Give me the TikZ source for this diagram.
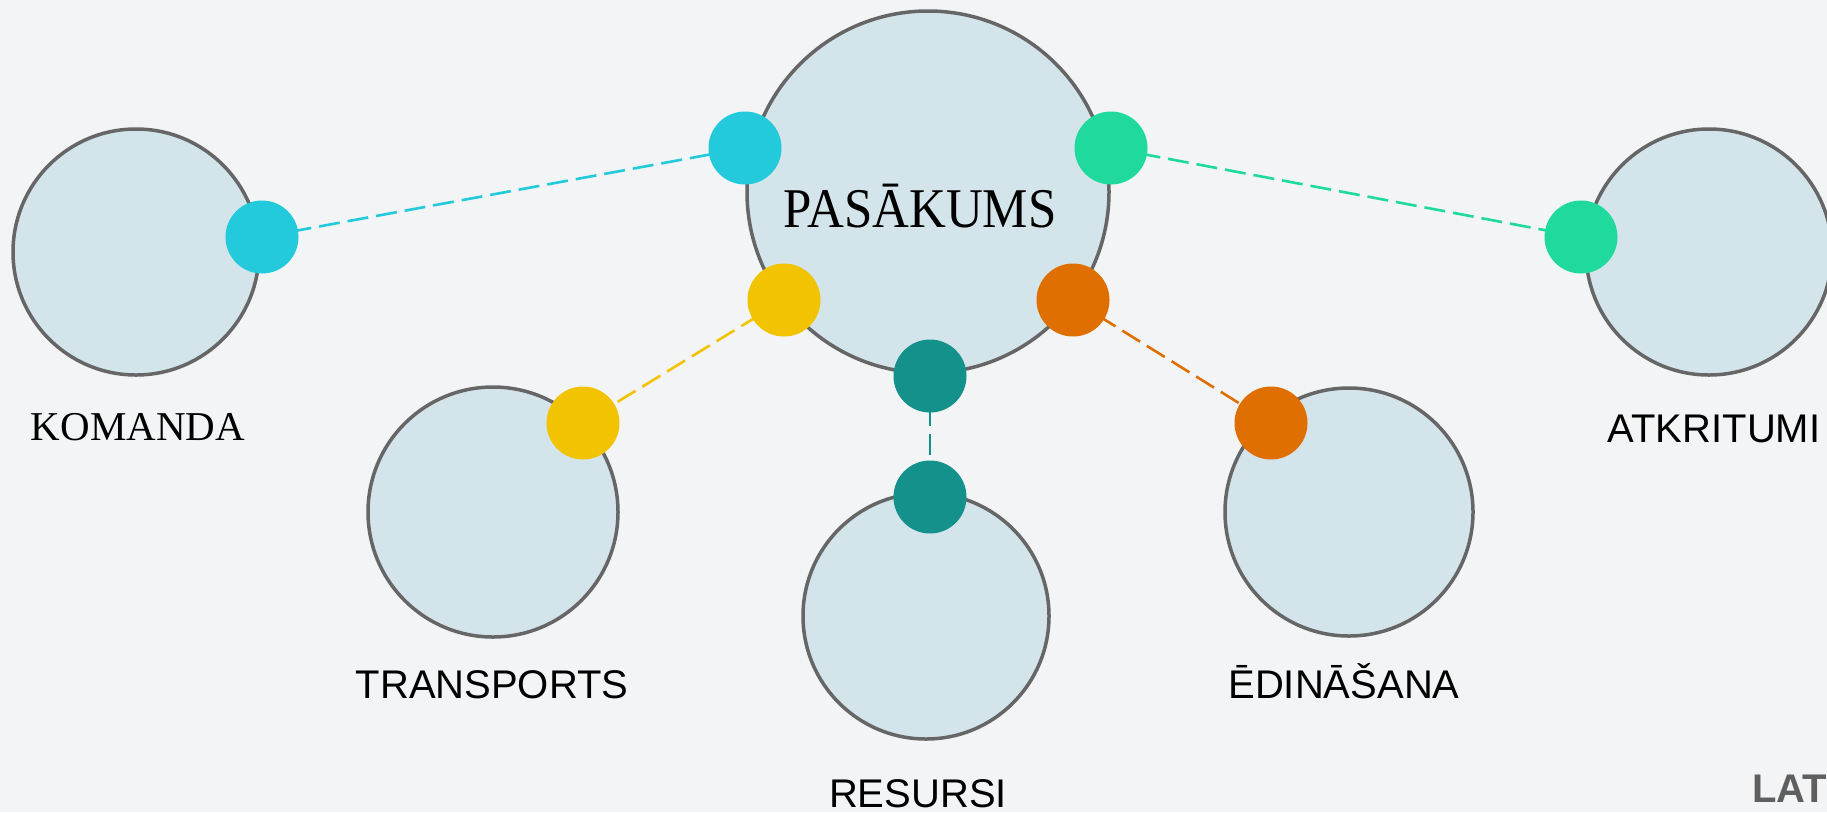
\documentclass[tikz,border=0pt]{standalone}
\usepackage{fontspec}
\setmainfont{Liberation Serif}
\newfontfamily\lsans{Liberation Sans}
\definecolor{bgc}{HTML}{F2F4F5}
\definecolor{circfill}{HTML}{D3E4EB}
\definecolor{circline}{HTML}{666666}
\definecolor{ccyan}{HTML}{22CADB}
\definecolor{cgreen}{HTML}{1FD99D}
\definecolor{cyellow}{HTML}{F2C300}
\definecolor{corange}{HTML}{DE6F00}
\definecolor{cteal}{HTML}{13918A}
\definecolor{ltext}{HTML}{5F5F5F}
\pgfdeclarelayer{bg}
\pgfdeclarelayer{conn}
\pgfsetlayers{bg,conn,main}
\tikzset{
  bigcirc/.style={circle, draw=circline, line width=3.5pt, fill=circfill, inner sep=0pt, minimum size=#1},
  dotnode/.style={circle, fill=#1, inner sep=0pt, minimum size=73pt},
  conline/.style={draw=#1, line width=2.6pt, dash pattern=on 21pt off 8pt},
  serlabel/.style={anchor=base, inner sep=0pt, font=\fontsize{41}{48}\selectfont},
  sanslabel/.style={anchor=base, inner sep=0pt, font=\lsans\fontsize{40}{48}\selectfont},
}
\begin{document}
\begin{tikzpicture}[x=1pt, y=-1pt]
\clip (0,0) rectangle (1827,812);
\begin{pgfonlayer}{bg}
\fill[bgc] (0,0) rectangle (1827,812);
\end{pgfonlayer}
% big circles
\node[bigcirc=362pt] (main) at (928,192) {};
\node[bigcirc=246pt] (kom) at (136,252) {};
\node[bigcirc=246pt] (atk) at (1709,252) {};
\node[bigcirc=250pt] (tra) at (493,512) {};
\node[bigcirc=246pt] (res) at (926,616) {};
\node[bigcirc=248pt] (edi) at (1349,512) {};
% dots
\node[dotnode=ccyan] (mcy) at (745,148) {};
\node[dotnode=ccyan] (kcy) at (262,237) {};
\node[dotnode=cgreen] (mgr) at (1111,148) {};
\node[dotnode=cgreen] (agr) at (1581,237) {};
\node[dotnode=cyellow] (mye) at (784,300) {};
\node[dotnode=cyellow] (tye) at (583,423) {};
\node[dotnode=corange] (mor) at (1073,300) {};
\node[dotnode=corange] (eor) at (1271,423) {};
\node[dotnode=cteal] (mte) at (930,376) {};
\node[dotnode=cteal] (rte) at (930,497) {};
% connectors
\begin{pgfonlayer}{conn}
\draw[conline=ccyan] (kcy.center) -- (mcy.center);
\draw[conline=cgreen] (mgr.center) -- (agr.center);
\draw[conline=cyellow] (mye.center) -- (tye.center);
\draw[conline=corange] (mor.center) -- (eor.center);
\draw[conline=cteal] (mte.center) -- (rte.center);
\end{pgfonlayer}
% labels
\node[anchor=base, inner sep=0pt, font=\fontsize{51}{60}\selectfont] (tmain) at (920,227) {\scalebox{1}[1.1]{PASĀKUMS}};
\node[serlabel] (tkom) at (138,440) {KOMANDA};
\node[sanslabel] (tatk) at (1714,442) {ATKRITUMI};
\node[sanslabel] (ttra) at (492,698) {TRANSPORTS};
\node[sanslabel] (tres) at (918,807) {RESURSI};
\node[sanslabel] (tedi) at (1344,698) {ĒDINĀŠANA};
\node[anchor=base west, inner sep=0pt, text=ltext, font=\lsans\bfseries\fontsize{40}{48}\selectfont] (tlat) at (1752,802) {LAT};
\end{tikzpicture}
\end{document}
